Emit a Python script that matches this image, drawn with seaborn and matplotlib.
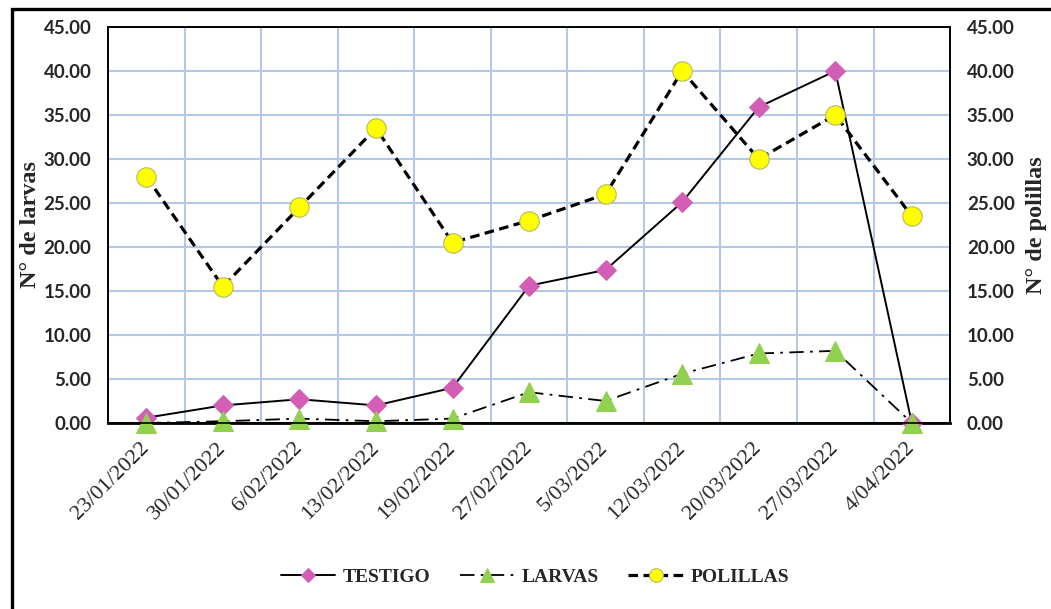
import matplotlib
matplotlib.use("Agg")
import matplotlib.pyplot as plt
from matplotlib.patches import Rectangle
import seaborn as sns
import pandas as pd

fechas = ["23/01/2022", "30/01/2022", "6/02/2022", "13/02/2022", "19/02/2022",
          "27/02/2022", "5/03/2022", "12/03/2022", "20/03/2022", "27/03/2022",
          "4/04/2022"]
testigo = [0.6, 2.0, 2.7, 2.0, 4.0, 15.6, 17.4, 25.1, 35.9, 40.0, 0.0]
larvas = [0.0, 0.2, 0.5, 0.2, 0.5, 3.5, 2.5, 5.6, 7.9, 8.2, 0.0]
polillas = [28.0, 15.5, 24.5, 33.5, 20.5, 23.0, 26.0, 40.0, 30.0, 35.0, 23.5]

df = pd.DataFrame({"idx": range(len(fechas)), "fecha": fechas,
                   "testigo": testigo, "larvas": larvas, "polillas": polillas})

sns.set_style("white")
serif = "Liberation Serif"
tickfont = "Lato"

fig = plt.figure(figsize=(10.51, 6.09), dpi=100)
ax = fig.add_axes([0.1028, 0.3054, 0.8012, 0.6503])
ax2 = ax.twinx()

grid_c = "#B4C7E7"
ax.set_xlim(-0.5, len(fechas) - 0.5)
ax.set_ylim(0, 45)
ax2.set_ylim(0, 45)
ax.set_yticks(range(0, 46, 5))
ax2.set_yticks(range(0, 46, 5))
ax.set_xticks(df["idx"])
ax.set_xticks([i + 0.5 for i in range(len(fechas) - 1)], minor=True)
ax.grid(False)
ax.grid(axis="y", which="major", color=grid_c, lw=1.5)
ax.grid(axis="x", which="minor", color=grid_c, lw=1.5)
ax.set_axisbelow(True)

sns.lineplot(data=df, x="idx", y="testigo", ax=ax, color="black", lw=1.4,
             marker="D", markersize=10, markerfacecolor="#D25FB5",
             markeredgecolor="#D25FB5", label="TESTIGO", clip_on=False,
             legend=False, zorder=4)
sns.lineplot(data=df, x="idx", y="larvas", ax=ax, color="black", lw=1.3,
             linestyle=(0, (8, 3.5, 1.5, 3.5)),
             marker="^", markersize=15, markerfacecolor="#92D050",
             markeredgecolor="#92D050", label="LARVAS", clip_on=False,
             legend=False, zorder=5)
sns.lineplot(data=df, x="idx", y="polillas", ax=ax2, color="black", lw=2.3,
             linestyle=(0, (3, 1.7)),
             marker="o", markersize=14, markerfacecolor="#FFFF00",
             markeredgecolor="#B8B860", markeredgewidth=0.8,
             label="POLILLAS", clip_on=False, legend=False, zorder=5)

ylabels = [f"{v:.2f}" for v in range(0, 46, 5)]
ax.set_yticklabels(ylabels)
ax2.set_yticklabels(ylabels)
ax.set_xticklabels(fechas)
ax.set_xlabel("")

ax.tick_params(axis="both", which="both", length=0)
ax.tick_params(axis="y", pad=12, labelsize=13.5, labelfontfamily=tickfont)
ax2.tick_params(axis="y", length=0, pad=12, labelsize=13.5,
                labelfontfamily=tickfont)
ax.tick_params(axis="x", pad=16, labelsize=16, labelfontfamily=serif,
               labelrotation=45)
for t in ax.get_yticklabels() + ax2.get_yticklabels():
    t.set_fontweight("bold")
for t in ax.get_xticklabels():
    t.set_ha("right")
    t.set_va("center")
    t.set_rotation_mode("anchor")

ax.set_ylabel("N° de larvas", fontfamily=serif, fontweight="bold",
              fontsize=17.5, labelpad=2)
ax2.set_ylabel("N° de polillas", fontfamily=serif, fontweight="bold",
               fontsize=17.5, labelpad=8)

for a in (ax, ax2):
    for s in a.spines.values():
        s.set_color("black")
        s.set_linewidth(1.2)
ax.spines["bottom"].set_linewidth(2)

h1, l1 = ax.get_legend_handles_labels()
h2, l2 = ax2.get_legend_handles_labels()
fig.legend(h1 + h2, l1 + l2, loc="center", bbox_to_anchor=(0.509, 0.0525),
           ncol=3, frameon=False, handlelength=2.8, handletextpad=0.4,
           columnspacing=1.5, markerscale=0.7,
           prop={"family": serif, "weight": "bold", "size": 14})

fig.patches.append(Rectangle((0.0115, -0.1), 1.2, 1.0852, transform=fig.transFigure,
                             fill=False, ec="black", lw=2.4))

fig.savefig("out.png", dpi=100)
